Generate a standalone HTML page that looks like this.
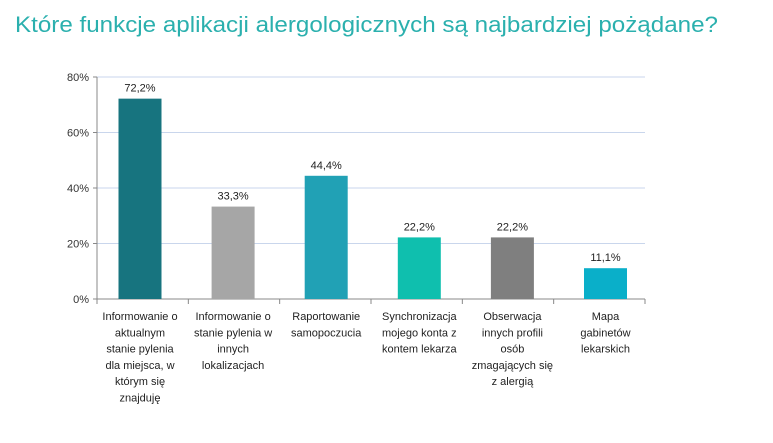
<!DOCTYPE html>
<html><head><meta charset="utf-8"><style>
body{margin:0;background:#fff;width:773px;height:438px;overflow:hidden;font-family:"Liberation Sans",sans-serif}
</style></head><body>
<svg width="773" height="438" xmlns="http://www.w3.org/2000/svg">
<text x="15" y="32" font-size="22" fill="#2bb0ae" textLength="703" lengthAdjust="spacingAndGlyphs">Które funkcje aplikacji alergologicznych są najbardziej pożądane?</text>
<g id="grid"></g><g id="bars"></g><g id="labels"></g>
</svg>
<script>
const categories=[["Informowanie o","aktualnym","stanie pylenia","dla miejsca, w","którym się","znajduję"],["Informowanie o","stanie pylenia w","innych","lokalizacjach"],["Raportowanie","samopoczucia"],["Synchronizacja","mojego konta z","kontem lekarza"],["Obserwacja","innych profili","osób","zmagających się","z alergią"],["Mapa","gabinetów","lekarskich"]];
const values=[72.2,33.3,44.4,22.2,22.2,11.1];
const valueLabels=["72,2%","33,3%","44,4%","22,2%","22,2%","11,1%"];
const colors=["#17747f","#a6a6a6","#21a1b5","#0fbfae","#7f7f7f","#0aafc9"];
const ticks=[0,20,40,60,80];
const tickLabels=["0%","20%","40%","60%","80%"];
const NS="http://www.w3.org/2000/svg";
const x0=97,x1=645,y0=299,yTop=77,yMax=80;
const band=(x1-x0)/categories.length;
const y=v=>y0-(v/yMax)*(y0-yTop);
const xc=i=>140+93.1*i;
function mk(t,a,p){const e=document.createElementNS(NS,t);for(const k in a)e.setAttribute(k,a[k]);p.appendChild(e);return e;}
const grid=document.getElementById('grid'),bars=document.getElementById('bars'),labels=document.getElementById('labels');
ticks.forEach((t,i)=>{
  if(t>0){const g=mk('line',{x1:x0,x2:x1,y1:y(t),y2:y(t),stroke:'#c9d6ec','stroke-width':1},grid);
  
  }
  const tl=mk('text',{x:x0-8,y:y(t)+4,'font-size':11,fill:'#333','text-anchor':'end'},grid);
  tl.textContent=tickLabels[i];
  
  
});
const ax=mk('line',{x1:x0,x2:x0,y1:yTop,y2:y0,stroke:'#888'},grid);


const xa=mk('line',{x1:x0-4,x2:x1,y1:y0,y2:y0,stroke:'#888'},grid);


for(let i=0;i<=categories.length;i++){const tk=mk('line',{x1:x0+band*i,x2:x0+band*i,y1:y0,y2:y0+5,stroke:'#888'},grid);

}
for(let i=0;i<=4;i++){const tk=mk('line',{x1:x0-4,x2:x0,y1:y(ticks[i]),y2:y(ticks[i]),stroke:'#888'},grid);

}
values.forEach((v,i)=>{
  const w=43;
  const r=mk('rect',{x:xc(i)-w/2,y:y(v),width:w,height:y0-y(v),fill:colors[i]},bars);
  
  
  const vl=mk('text',{x:xc(i),y:y(v)-7,'font-size':11,fill:'#222','text-anchor':'middle'},labels);
  vl.textContent=valueLabels[i];
  
  
  categories[i].forEach((line,j)=>{
    const c=mk('text',{x:xc(i),y:320+j*16.3,'font-size':11,fill:'#222','text-anchor':'middle'},labels);
    c.textContent=line;
    
    
  });
});
</script>
</body></html>
